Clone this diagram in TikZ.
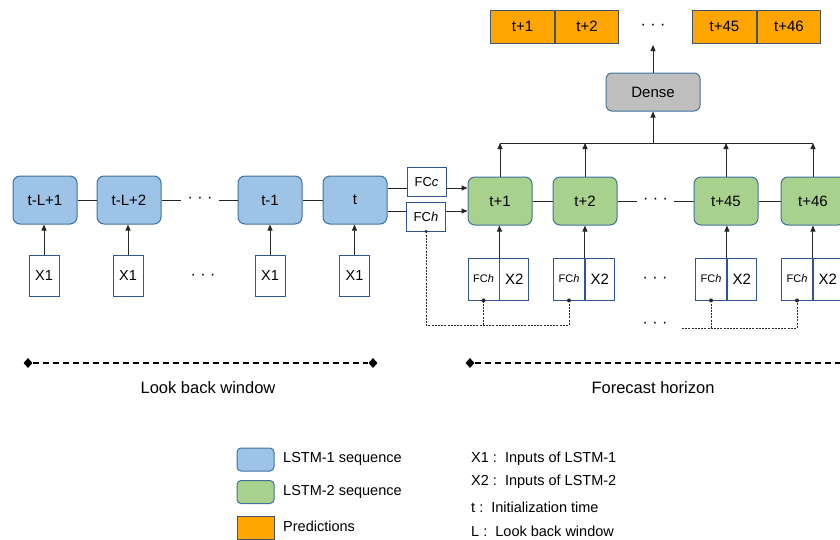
\documentclass[tikz,border=0pt]{standalone}
\usepackage{fontspec}
\setmainfont{Liberation Sans}
\usetikzlibrary{arrows.meta,shapes.geometric}
\definecolor{bfill}{HTML}{9DC3E6}
\definecolor{gfill}{HTML}{A9D18E}
\definecolor{ofill}{HTML}{FFA500}
\definecolor{dfill}{HTML}{BFBFBF}
\definecolor{bdr}{HTML}{41719C}
\definecolor{xbdr}{HTML}{2F5597}
\definecolor{obdr}{HTML}{44546A}
\definecolor{ln}{HTML}{262626}
\newcommand{\mydots}{\textperiodcentered\hspace{4.5pt}\textperiodcentered\hspace{4.5pt}\textperiodcentered}
\tikzset{
  cell/.style={draw=bdr, line width=1pt, rounded corners=7pt, minimum width=64pt, minimum height=48pt, inner sep=0pt, font=\fontsize{15}{17}\selectfont},
  lstmone/.style={cell, fill=bfill},
  lstmtwo/.style={cell, fill=gfill},
  xin/.style={draw=xbdr, line width=0.9pt, fill=white, minimum width=30pt, minimum height=41pt, inner sep=0pt, font=\fontsize{14.5}{16}\selectfont},
  fcbox/.style={draw=xbdr, line width=0.9pt, fill=white, minimum width=39pt, minimum height=29pt, inner sep=0pt, font=\fontsize{13}{15}\selectfont},
  fchalf/.style={draw=xbdr, line width=0.9pt, fill=white, minimum width=31pt, minimum height=42pt, inner sep=0pt, font=\fontsize{11}{13}\selectfont},
  xhalf/.style={draw=xbdr, line width=0.9pt, fill=white, minimum width=29pt, minimum height=42pt, inner sep=0pt, font=\fontsize{15}{17}\selectfont},
  pred/.style={draw=obdr, line width=1pt, fill=ofill, minimum width=63.5pt, minimum height=33pt, inner sep=0pt, font=\fontsize{15}{17}\selectfont},
  dotsnode/.style={inner sep=0pt, minimum width=37pt, minimum height=10pt, font=\fontsize{16}{18}\selectfont},
  conn/.style={draw=ln, line width=1pt},
  arr/.style={conn, -{Triangle[length=6pt,width=5pt]}},
  fine/.style={draw=ln, line width=0.9pt, dash pattern=on 2pt off 1.2pt},
  junction/.style={circle, fill=ln, inner sep=0pt, minimum size=4pt},
  span/.style={draw=black, line width=1.3pt, dash pattern=on 6pt off 4pt},
  tipd/.style={diamond, fill=black, inner sep=0pt, minimum width=9pt, minimum height=10pt},
  lbl/.style={font=\fontsize{16.5}{18}\selectfont},
  legtxt/.style={anchor=west, inner sep=0pt, font=\fontsize{14.5}{16}\selectfont},
  legbox/.style={draw=bdr, line width=1pt, rounded corners=4pt, minimum width=37pt, minimum height=23pt, inner sep=0pt}
}
\begin{document}
\begin{tikzpicture}[x=1pt,y=-1pt]
\useasboundingbox (0,0) rectangle (840,539);
\clip (0,0) rectangle (840,539);

% LSTM-1 chain
\node[lstmone] (b1) at (45,200) {t-L+1};
\node[lstmone] (b2) at (129,200) {t-L+2};
\node[dotsnode] (bd) at (200,200) {\mydots};
\node[lstmone] (b3) at (270,200) {t-1};
\node[lstmone] (b4) at (355,200) {t};
\draw[conn] (b1) -- (b2);
\draw[conn] (b2) -- (bd);
\draw[conn] (bd) -- (b3);
\draw[conn] (b3) -- (b4);

% X1 inputs
\node[xin] (x1) at (44,275.5) {X1};
\node[xin] (x2) at (128,275.5) {X1};
\node[dotsnode] (xd) at (203,277) {\mydots};
\node[xin] (x3) at (270,275.5) {X1};
\node[xin] (x4) at (354.5,275.5) {X1};
\foreach \i in {1,2,3,4} \draw[arr] (x\i.north) -- (x\i.north |- b\i.south);

% FC boxes
\node[fcbox] (fcc) at (426.5,182) {FC\textit{c}};
\node[fcbox] (fch) at (426,216.5) {FC\textit{h}};
\coordinate (ya) at (0,188);
\coordinate (yb) at (0,211);

% LSTM-2 chain
\node[lstmtwo] (g1) at (500,201) {t+1};
\node[lstmtwo] (g2) at (585,201) {t+2};
\node[dotsnode] (gd) at (655.5,201) {\mydots};
\node[lstmtwo] (g3) at (726,201) {t+45};
\node[lstmtwo] (g4) at (813,201) {t+46};
\draw[conn] (g1) -- (g2);
\draw[conn] (g2) -- (gd);
\draw[conn] (gd) -- (g3);
\draw[conn] (g3) -- (g4);

\draw[conn] (b4.east |- ya) -- (fcc.west |- ya);
\draw[conn] (b4.east |- yb) -- (fch.west |- yb);
\draw[arr] (fcc.east |- ya) -- (g1.west |- ya);
\draw[arr] (fch.east |- yb) -- (g1.west |- yb);

% FCh | X2 inputs
\node[fchalf] (h1) at (483.5,279) {FC\textit{h}};
\node[xhalf, anchor=west] (q1) at (h1.east) {X2};
\node[fchalf] (h2) at (569,279) {FC\textit{h}};
\node[xhalf, anchor=west] (q2) at (h2.east) {X2};
\node[dotsnode] (hd) at (655,280) {\mydots};
\node[fchalf] (h3) at (711,279) {FC\textit{h}};
\node[xhalf, anchor=west] (q3) at (h3.east) {X2};
\node[fchalf] (h4) at (797,279) {FC\textit{h}};
\node[xhalf, anchor=west] (q4) at (h4.east) {X2};
\foreach \i in {1,2,3,4} \draw[arr] (h\i.north east) -- (h\i.north east |- g\i.south);

% dashed feed of FCh
\coordinate (yl) at (0,325);
\coordinate (yr) at (0,328);
\node[dotsnode] (ld) at (655,325) {\mydots};
\coordinate (rstart) at (682,328);
\draw[fine] (fch.south) -- (fch.south |- yl) -- (h2.south |- yl) -- (h2.south);
\draw[fine] (h1.south |- yl) -- (h1.south);
\draw[fine] (rstart) -- (h4.south |- yr) -- (h4.south);
\draw[fine] (h3.south |- yr) -- (h3.south);
\foreach \n in {h1,h2,h3,h4} \node[junction] at (\n.south) {};
\node[junction, minimum size=3pt] at (fch.south) {};

% bus and dense
\coordinate (bus) at (653,143);
\foreach \i in {1,2,3,4} \draw[arr] (g\i.north) -- (g\i.north |- bus);
\draw[conn] (g1.north |- bus) -- (g4.north |- bus);
\node[draw=bdr, line width=1pt, fill=dfill, rounded corners=6pt, minimum width=94pt, minimum height=38pt, inner sep=0pt, font=\fontsize{15}{17}\selectfont] (dense) at (653,92) {Dense};
\draw[arr] (bus) -- (dense.south);
\coordinate (ptop) at (653,45);
\draw[arr] (dense.north) -- (ptop);

% predictions
\node[pred] (o1) at (522.5,26.5) {t+1};
\node[pred, anchor=west] (o2) at (o1.east) {t+2};
\node[dotsnode] (od) at (653,27) {\mydots};
\node[pred] (o3) at (724.5,26.5) {t+45};
\node[pred, anchor=west] (o4) at (o3.east) {t+46};

% spans
\node[tipd] (lb1) at (28,363) {};
\node[tipd] (lb2) at (373,363) {};
\draw[span] (lb1) -- (lb2);
\node[lbl] (lbt) at (208,388) {Look back window};
\node[tipd] (fh1) at (470,363) {};
\coordinate (fh2) at (842,363);
\draw[span] (fh1) -- (fh2);
\node[lbl] (fht) at (653,388) {Forecast horizon};

% legend
\node[legbox, fill=bfill] (lg1) at (255.5,459.5) {};
\node[legbox, fill=gfill] (lg2) at (255.5,492) {};
\node[legbox, fill=ofill, draw=obdr, rounded corners=0pt] (lg3) at (255.5,528) {};
\node[legtxt] (lt1) at (283,459) {LSTM-1 sequence};
\node[legtxt] (lt2) at (283,492) {LSTM-2 sequence};
\node[legtxt] (lt3) at (283,526) {Predictions};
\node[legtxt] (rt1) at (471,459) {X1 :\ \ Inputs of LSTM-1};
\node[legtxt] (rt2) at (471,482) {X2 :\ \ Inputs of LSTM-2};
\node[legtxt] (rt3) at (471,507) {t :\ \ Initialization time};
\node[legtxt] (rt4) at (471,531) {L :\ \ Look back window};
\end{tikzpicture}
\end{document}
